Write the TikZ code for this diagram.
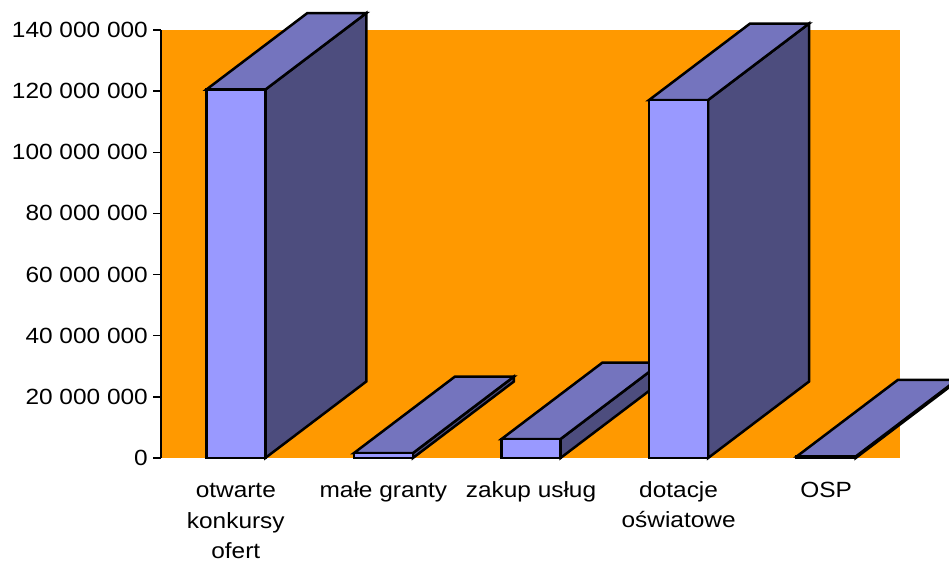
\documentclass[tikz,border=0pt]{standalone}
\usepackage{fontspec}
\setmainfont[FakeStretch=1.11]{Liberation Sans}
\usepackage{tikz}
\usepackage{xcolor}
\definecolor{tlo}{HTML}{FF9900}
\definecolor{frontc}{HTML}{9999FF}
\definecolor{topc}{HTML}{7474BE}
\definecolor{sidec}{HTML}{4D4D7E}

\begin{document}
\begin{tikzpicture}[x=1pt,y=1pt,font=\fontsize{22}{30}\selectfont,
        barfront/.style={fill=frontc,draw=black,line width=2.5pt},
        bartop/.style={fill=topc,draw=black,line width=2.5pt},
        barside/.style={fill=sidec,draw=black,line width=2.5pt}]
        \useasboundingbox (-162,-103) rectangle (787,458);
        \clip (-162,-103) rectangle (787,458);
        \fill[tlo] (0,0) rectangle (738,428); % tlo wykresu
        \draw[line width=2.2pt] (-1,0) -- (-1,428); % os y
        \foreach \v/\t in {0/0,20/20 000 000,40/40 000 000,60/60 000 000,80/80 000 000,100/100 000 000,120/120 000 000,140/140 000 000}{
        \draw[line width=1.5pt] (-9,\v*3.0571) -- (-1,\v*3.0571);
        \node[anchor=east,inner sep=0] (y\v) at (-14,\v*3.0571) {\t};
        }
        \foreach \i/\v in {1/120.5,2/1.6,3/6.2,4/117.1,5/0.5}{
        \pgfmathsetmacro\c{73.8+147.6*(\i-1)}
        \pgfmathsetmacro\h{\v*3.0571}
        \draw[barside] (\c+29.5,0) -- (\c+29.5,\h) -- (\c+130.5,\h+76.5) -- (\c+130.5,76.5) -- cycle;
        \draw[bartop] (\c-29.5,\h) -- (\c+71.5,\h+76.5) -- (\c+130.5,\h+76.5) -- (\c+29.5,\h) -- cycle;
        \draw[barfront] (\c-29.5,0) rectangle (\c+29.5,\h);
        }
        % etykiety kategorii (base = ostatnia linia)
        \foreach \i/\t/\y in {1/otwarte\\konkursy\\ofert/-100,2/małe granty/-40,3/zakup usług/-40,4/dotacje\\oświatowe/-70,5/OSP/-40}{
        \node[anchor=base,align=center,inner sep=0] (k\i) at (73.8+147.6*\i-147.6,\y) {\t};
        }
        \end{tikzpicture}
\end{document}
